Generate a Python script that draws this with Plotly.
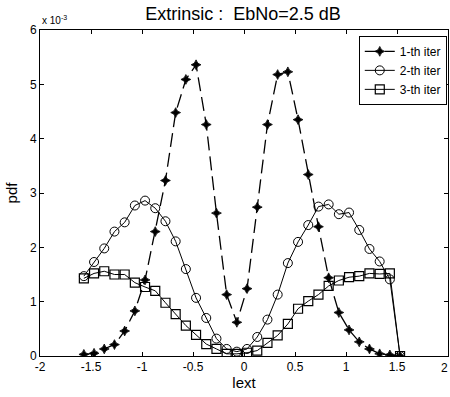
import plotly.graph_objects as go

# x positions (lext)
x_vals = [-1.57, -1.47, -1.37, -1.27, -1.17, -1.07, -0.97, -0.87, -0.77, -0.67,
          -0.57, -0.47, -0.37, -0.27, -0.17, -0.07, 0.03, 0.13, 0.23, 0.33,
          0.43, 0.53, 0.63, 0.73, 0.83, 0.93, 1.03, 1.13, 1.23, 1.33, 1.43, 1.53]

# pdf values in units of 1e-3
iter1 = [0.03, 0.05, 0.13, 0.21, 0.46, 0.83, 1.40, 2.29, 3.23, 4.48,
         5.09, 5.36, 4.26, 2.63, 1.13, 0.62, 1.24, 2.74, 4.26, 5.18,
         5.23, 4.35, 3.34, 2.38, 1.44, 0.80, 0.48, 0.26, 0.13, 0.04, 0.02, 0.0]
iter2 = [1.47, 1.73, 1.98, 2.29, 2.46, 2.77, 2.86, 2.72, 2.48, 2.11,
         1.60, 1.07, 0.70, 0.32, 0.13, 0.08, 0.13, 0.35, 0.67, 1.13,
         1.71, 2.10, 2.41, 2.75, 2.79, 2.61, 2.64, 2.32, 1.97, 1.74, 1.41, 0.0]
iter3 = [1.43, 1.52, 1.56, 1.50, 1.50, 1.35, 1.27, 1.20, 0.98, 0.77,
         0.56, 0.39, 0.22, 0.13, 0.04, 0.04, 0.06, 0.10, 0.24, 0.38,
         0.59, 0.87, 1.01, 1.13, 1.29, 1.39, 1.45, 1.47, 1.52, 1.51, 1.52, 0.0]

names = ["1-th iter", "2-th iter", "3-th iter"]
x_ticks = [-2, -1.5, -1, -0.5, 0, 0.5, 1, 1.5, 2]
x_ticktext = ["-2", "-1.5", "-1", "-0.5", "0", "0.5", "1", "1.5", "2"]
y_ticks = [0, 1, 2, 3, 4, 5, 6]
y_ticktext = ["0", "1", "2", "3", "4", "5", "6"]

FONT = "Liberation Sans, Arial, sans-serif"
TICK_SIZE = 12

fig = go.Figure()
fig.add_trace(go.Scatter(
    x=x_vals, y=iter1, name=names[0], mode="lines+markers",
    line=dict(color="black", width=1.3, dash="14px,6px"),
    marker=dict(symbol="star-diamond", size=7, color="black",
                line=dict(color="black", width=0.8))))
fig.add_trace(go.Scatter(
    x=x_vals, y=iter2, name=names[1], mode="lines+markers",
    line=dict(color="black", width=1),
    marker=dict(symbol="circle-open", size=9, color="black",
                line=dict(color="black", width=1))))
fig.add_trace(go.Scatter(
    x=x_vals, y=iter3, name=names[2], mode="lines+markers",
    line=dict(color="black", width=1),
    marker=dict(symbol="square-open", size=9, color="black",
                line=dict(color="black", width=1.2))))

axis_common = dict(showline=True, linecolor="black", linewidth=1, mirror="ticks",
                   ticks="inside", ticklen=4, tickcolor="black", showgrid=False,
                   zeroline=False, tickfont=dict(family=FONT, size=TICK_SIZE, color="black"))

fig.update_layout(
    width=450, height=397,
    margin=dict(l=40, r=2, t=30, b=41),
    paper_bgcolor="white", plot_bgcolor="white",
    font=dict(family=FONT, color="black"),
    title=dict(text="Extrinsic :  EbNo=2.5 dB", x=0.54, xanchor="center",
               y=0.965, yanchor="middle", font=dict(family=FONT, size=18, color="black")),
    xaxis=dict(range=[-2, 2], tickvals=x_ticks[:-1], ticktext=x_ticktext[:-1],
               title=dict(text="lext", font=dict(family=FONT, size=15, color="black"),
                          standoff=4), **axis_common),
    yaxis=dict(range=[0, 6], tickvals=y_ticks, ticktext=y_ticktext,
               title=dict(text="pdf", font=dict(family=FONT, size=15, color="black"),
                          standoff=8), **axis_common),
    legend=dict(x=0.997, y=0.982, xanchor="right", yanchor="top",
                bgcolor="white", bordercolor="black", borderwidth=1,
                font=dict(family=FONT, size=12, color="black"),
                tracegroupgap=0, itemwidth=30),
    annotations=[
        dict(text="x 10<sup>-3</sup>", xref="paper", yref="paper",
             x=0.0, y=1.0, xanchor="left", yanchor="bottom", yshift=2,
             showarrow=False, font=dict(family=FONT, size=10, color="black")),
        # last x tick label, kept inside the page at the right edge
        dict(text=x_ticktext[-1], xref="x", yref="paper", x=x_ticks[-1], y=0,
             xanchor="right", yanchor="top", xshift=2, yshift=-3, showarrow=False,
             font=dict(family=FONT, size=TICK_SIZE, color="black")),
    ],
)

fig.write_html("out.html")
